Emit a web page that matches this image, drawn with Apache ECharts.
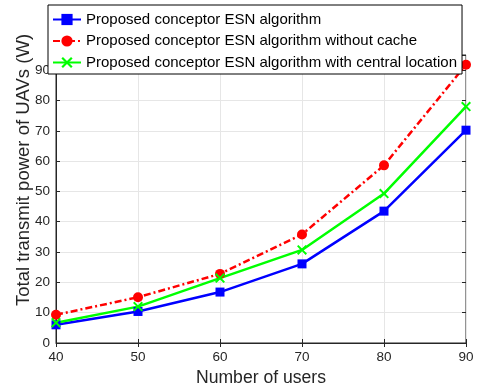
<!DOCTYPE html>
<html>
<head>
<meta charset="utf-8">
<script src="https://cdn.jsdelivr.net/npm/echarts@6/dist/echarts.min.js"></script>
<style>
html, body { margin: 0; padding: 0; background: #fff; }
#chart { width: 482px; height: 391px; }
</style>
</head>
<body>
<div id="chart"></div>
<script>
const users = [40, 50, 60, 70, 80, 90]
const esnPower = [6.0, 10.4, 16.8, 26.1, 43.5, 70.2]
const noCachePower = [9.3, 15.1, 22.8, 35.8, 58.6, 91.8]
const centralPower = [6.7, 12.0, 21.4, 30.7, 49.3, 78.0]
const seriesNames = [
    'Proposed conceptor ESN algorithm',
    'Proposed conceptor ESN algorithm without cache',
    'Proposed conceptor ESN algorithm with central location'
]

const axisColor = '#262626'
const gridColor = '#e6e6e6'
const font = 'Liberation Sans, Arial, sans-serif'
const xMark = 'path://M0,1.4L1.4,0L5,3.6L8.6,0L10,1.4L6.4,5L10,8.6L8.6,10L5,6.4L1.4,10L0,8.6L3.6,5Z'

const pairs = (ys) => users.map((x, i) => [x, ys[i]])

const tickOnly = {
    axisLine: { show: false },
    axisLabel: { show: false },
    splitLine: { show: false },
    axisTick: { show: true, inside: true, length: 4, lineStyle: { color: axisColor } }
}

const option = {
    animation: false,
    grid: {
        left: 56, right: 16, top: 55, bottom: 48,
        outerBoundsMode: 'none', containLabel: false,
        show: true, borderColor: axisColor, borderWidth: 1
    },
    legend: {
        orient: 'vertical',
        left: 48, top: 5,
        padding: [7, 5, 4, 4],
        itemGap: 6.5,
        itemWidth: 28, itemHeight: 14,
        backgroundColor: '#fff',
        borderColor: '#000', borderWidth: 1,
        textStyle: { fontFamily: font, fontSize: 15, color: '#000' },
        data: seriesNames
    },
    xAxis: [{
        type: 'value', min: 40, max: 90, interval: 10,
        name: 'Number of users', nameLocation: 'middle', nameGap: 24,
        nameTextStyle: { fontFamily: font, fontSize: 17.6, color: axisColor },
        axisLine: { onZero: false, lineStyle: { color: axisColor } },
        axisTick: { inside: true, length: 4, lineStyle: { color: axisColor } },
        axisLabel: { fontFamily: font, fontSize: 13.5, color: axisColor, margin: 7 },
        splitLine: { show: true, lineStyle: { color: gridColor } }
    }, {
        type: 'value', min: 40, max: 90, interval: 10, position: 'top', ...tickOnly
    }],
    yAxis: [{
        type: 'value', min: 0, max: 95, interval: 10,
        name: 'Total transmit power of UAVs (W)', nameLocation: 'middle', nameGap: 23,
        nameMoveOverlap: false,
        nameTextStyle: { fontFamily: font, fontSize: 18.5, color: axisColor, padding: [0, 0, 0, 58] },
        axisLine: { show: true, lineStyle: { color: axisColor } },
        axisTick: { show: true, inside: true, length: 4, lineStyle: { color: axisColor } },
        axisLabel: {
            fontFamily: font, fontSize: 13.5, color: axisColor, margin: 6,
            formatter: v => (v % 10 === 0 ? String(v) : '')
        },
        splitLine: { show: true, lineStyle: { color: gridColor } }
    }, {
        type: 'value', min: 0, max: 95, interval: 10, position: 'right', ...tickOnly
    }],
    series: [
        {
            name: seriesNames[0], type: 'line', data: pairs(esnPower),
            symbol: 'rect', symbolSize: 9,
            lineStyle: { color: '#0000ff', width: 2.5 },
            itemStyle: { color: '#0000ff' }
        },
        {
            name: seriesNames[1], type: 'line', data: pairs(noCachePower),
            symbol: 'circle', symbolSize: 10,
            lineStyle: { color: '#ff0000', width: 2.5, type: [7, 3, 2, 3] },
            itemStyle: { color: '#ff0000' }
        },
        {
            name: seriesNames[2], type: 'line', data: pairs(centralPower),
            symbol: xMark, symbolSize: 10,
            lineStyle: { color: '#00ff00', width: 2.5 },
            itemStyle: { color: '#00ff00' }
        }
    ]
}

const myChart = echarts.init(document.getElementById('chart'))
myChart.setOption(option)
</script>
</body>
</html>
